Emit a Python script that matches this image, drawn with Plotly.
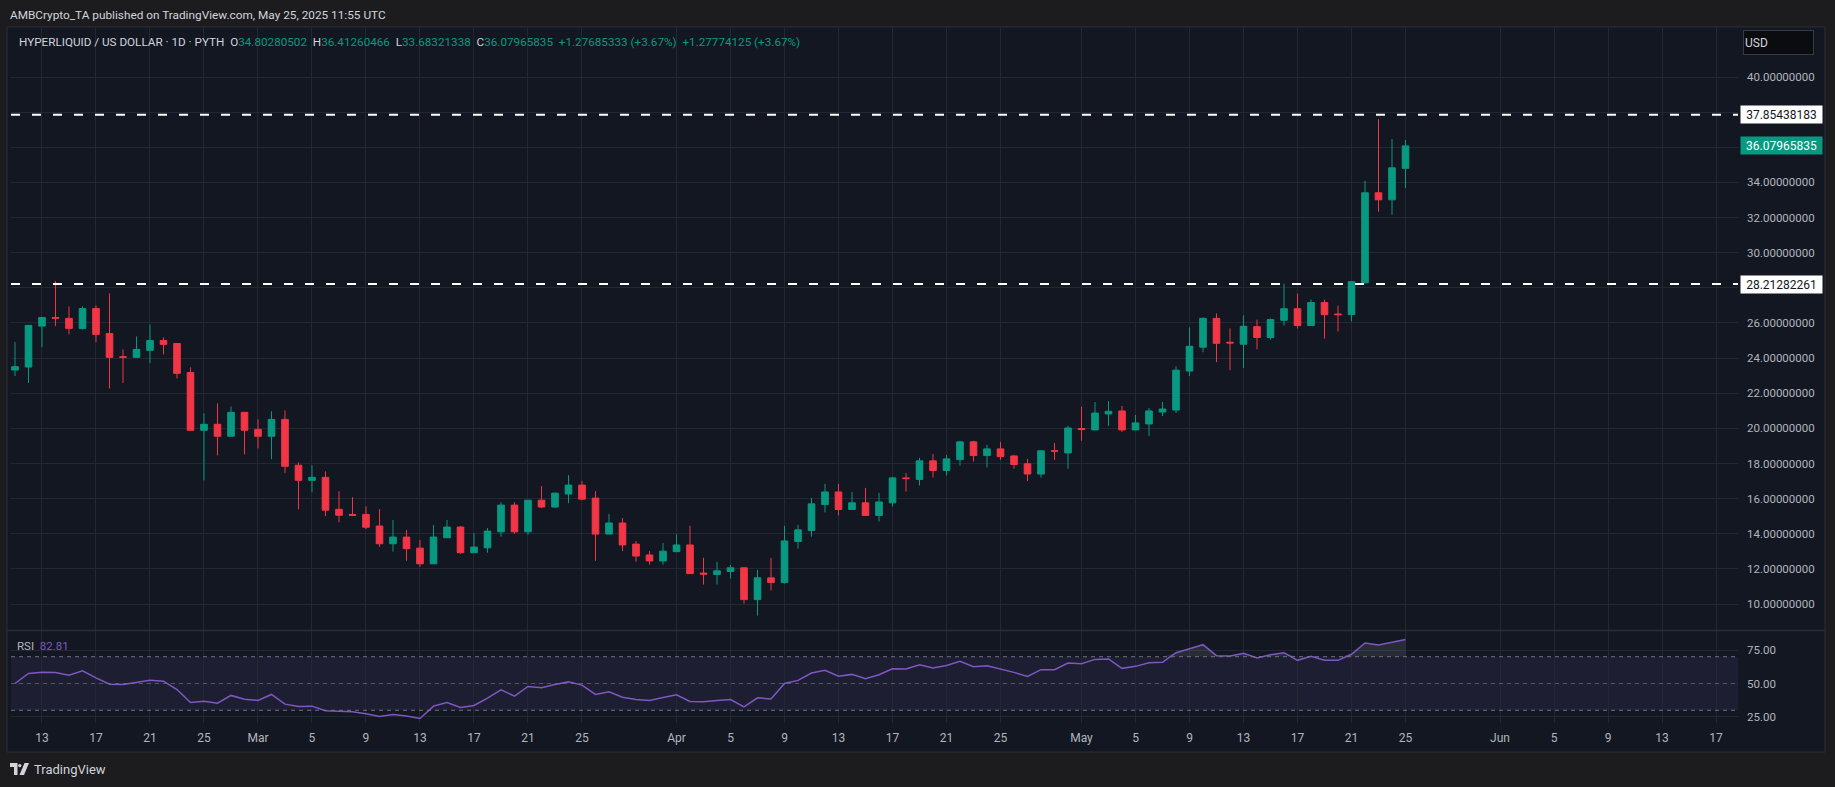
import numpy as np
import pandas as pd
import plotly.graph_objects as go

# ---------------- data ----------------
dates = pd.date_range("2025-02-11", "2025-05-25", freq="D").strftime("%Y-%m-%d").tolist()

opens = [23.32, 23.49, 25.82, 26.31, 26.26, 25.69, 26.82, 25.40, 24.08, 24.04, 24.44, 25.00, 24.83, 23.18, 19.89, 20.23, 19.55, 20.91,
         19.94, 19.55, 20.51, 17.90, 17.04, 17.21, 15.39, 15.10, 15.10, 14.44, 13.43, 13.81, 13.18, 12.29, 13.77, 14.38, 12.92, 13.20,
         14.11, 15.63, 14.11, 15.91, 15.52, 16.26, 16.77, 16.03, 13.98, 14.61, 13.41, 12.79, 12.45,
         12.98, 13.36, 11.76, 11.68, 11.85, 12.06, 10.25, 11.49, 11.22, 13.56, 14.18, 15.66, 16.38, 15.38, 15.76, 15.04, 15.76, 17.18,
         17.09, 18.15, 17.60, 18.22, 19.23, 18.45, 18.83, 18.43, 17.98, 17.40, 18.72, 18.60,
         19.99, 19.91, 20.82, 20.99, 19.91, 20.25, 20.93, 21.04, 23.26, 24.62, 26.26, 24.90, 24.79, 25.79, 25.17, 26.15, 26.81, 25.85,
         27.16, 26.51, 26.47, 28.29, 33.41, 33.01, 34.80280502]
highs = [24.91, 25.88, 26.31, 28.39, 26.94, 26.94, 27.00, 27.68, 24.49, 25.23, 25.91, 25.18, 24.83, 23.47, 20.85, 21.42, 21.25, 20.91,
         20.51, 20.97, 21.02, 18.07, 17.90, 17.55, 16.42, 16.08, 15.56, 15.40, 14.78, 14.21, 13.64, 14.49, 14.78, 14.44, 14.04, 14.32,
         15.80, 15.80, 15.91, 16.71, 16.34, 17.34, 17.00, 16.43, 15.12, 14.89, 13.58, 13.01, 13.47,
         13.98, 14.45, 12.63, 12.40, 12.23, 12.11, 11.94, 12.63, 14.45, 14.50, 16.04, 16.84, 16.84, 16.38, 16.61, 16.33, 17.24, 17.46,
         18.32, 18.55, 18.49, 19.29, 19.29, 19.06, 19.23, 18.49, 18.26, 18.77, 19.17, 20.14,
         21.23, 21.50, 21.55, 21.27, 20.76, 21.16, 21.50, 23.54, 25.75, 26.32, 26.54, 25.69, 26.43, 26.19, 26.25, 28.23, 27.67, 27.33,
         27.33, 26.98, 28.35, 34.09, 37.60, 36.47, 36.41260466]
lows = [22.98, 22.58, 24.63, 25.82, 25.35, 25.63, 24.91, 22.27, 22.58, 24.04, 23.72, 24.21, 22.84, 19.89, 17.04, 18.46, 19.55, 18.52,
        18.86, 18.24, 17.44, 15.39, 16.36, 15.00, 14.65, 15.00, 14.26, 13.26, 12.98, 12.46, 12.12, 12.29, 13.77, 12.86, 12.92, 12.92,
        13.83, 14.00, 13.94, 15.46, 15.46, 15.74, 15.91, 12.46, 13.98, 13.01, 12.41, 12.24, 12.24,
        12.98, 11.73, 11.11, 11.11, 11.45, 10.03, 9.34, 10.77, 11.16, 13.16, 13.84, 15.21, 15.04, 15.38, 15.04, 14.69, 15.55, 16.40,
        16.74, 17.20, 17.31, 17.88, 18.11, 17.77, 18.21, 17.70, 17.00, 17.20, 18.21, 17.70,
        19.29, 19.91, 20.14, 19.80, 19.91, 19.57, 20.70, 20.87, 22.97, 24.33, 23.77, 23.31, 23.43, 24.50, 25.05, 25.85, 25.68, 25.85,
        25.11, 25.51, 26.08, 28.23, 32.33, 32.16, 33.68321338]
closes = [23.51, 25.86, 26.31, 26.27, 25.69, 26.82, 25.35, 24.04, 24.04, 24.49, 25.00, 24.78, 23.13, 19.89, 20.23, 19.55, 20.91, 19.89,
          19.55, 20.51, 17.84, 17.04, 17.21, 15.34, 15.05, 15.05, 14.37, 13.43, 13.81, 13.15, 12.29, 13.81, 14.38, 12.92, 13.24, 14.15,
          15.63, 14.11, 15.91, 15.52, 16.31, 16.77, 15.97, 13.98, 14.61, 13.36, 12.73, 12.45, 13.01,
          13.36, 11.73, 11.70, 11.89, 12.06, 10.25, 11.49, 11.22, 13.59, 14.22, 15.70, 16.38, 15.38, 15.76, 15.04, 15.81, 17.18, 17.14,
          18.15, 17.60, 18.26, 19.23, 18.45, 18.83, 18.40, 17.94, 17.40, 18.72, 18.70, 20.02,
          19.93, 20.87, 20.97, 19.91, 20.31, 20.99, 21.10, 23.31, 24.67, 26.26, 24.84, 24.86, 25.81, 25.17, 26.19, 26.81, 25.85, 27.16,
          26.47, 26.47, 28.35, 33.41, 33.01, 34.83, 36.07965835]
rsi = [50.0, 57.5, 58.4, 58.2, 56.2, 59.4, 54.2, 49.5, 49.3, 50.7, 52.5, 51.7, 45.5, 35.8, 36.8, 35.3, 41.1, 38.3,
       37.3, 41.8, 34.6, 32.9, 33.1, 29.6, 29.1, 28.9, 27.4, 25.4, 26.9, 25.7, 23.9, 33.1, 35.8, 32.1, 33.6, 39.1,
       45.3, 40.6, 47.8, 46.8, 49.3, 51.2, 48.8, 41.8, 43.8, 39.8, 38.1, 37.3, 39.6,
       41.6, 36.6, 36.3, 37.3, 38.0, 32.5, 39.3, 38.5, 50.0, 52.3, 57.8, 59.8, 55.5, 56.8, 53.5, 56.5, 61.0, 60.8,
       64.0, 61.5, 63.5, 66.5, 62.5, 63.3, 61.0, 58.3, 55.3, 60.3, 60.3, 65.3,
       64.8, 68.0, 68.3, 61.3, 62.8, 65.5, 65.8, 73.0, 76.0, 79.0, 70.8, 70.5, 72.5, 69.0, 71.5, 73.0, 67.3, 70.3,
       67.3, 67.3, 71.8, 80.3, 78.8, 80.8, 82.81]

levels = [37.85438183, 28.21282261]
last_close = 36.07965835
price_ticks = list(range(10, 41, 2))
rsi_ticks = [25, 50, 75]
rsi_bands = [30, 50, 70]

tick_dates = ["2025-02-13", "2025-02-17", "2025-02-21", "2025-02-25", "2025-03-01", "2025-03-05", "2025-03-09",
              "2025-03-13", "2025-03-17", "2025-03-21", "2025-03-25", "2025-04-01", "2025-04-05", "2025-04-09",
              "2025-04-13", "2025-04-17", "2025-04-21", "2025-04-25", "2025-05-01", "2025-05-05", "2025-05-09",
              "2025-05-13", "2025-05-17", "2025-05-21", "2025-05-25", "2025-06-01", "2025-06-05", "2025-06-09",
              "2025-06-13", "2025-06-17"]
tick_labels = ["13", "17", "21", "25", "Mar", "5", "9", "13", "17", "21", "25", "Apr", "5", "9", "13", "17",
               "21", "25", "May", "5", "9", "13", "17", "21", "25", "Jun", "5", "9", "13", "17"]

assert len(dates) == len(opens) == len(highs) == len(lows) == len(closes) == len(rsi)

# ---------------- layout helpers ----------------
W, H = 1835, 787
L, R, T, B = 11, 1738, 28, 723


def px(x):
    return (x - L) / (R - L)


def py(y):
    return (B - y) / (B - T)


GREEN = "#089981"
RED = "#F23645"
TXT = "#b2b5be"
GRID = "#232733"
FONT = "Roboto"

fig = go.Figure()

fig.add_trace(go.Candlestick(
    x=dates, open=opens, high=highs, low=lows, close=closes,
    increasing=dict(line=dict(color=GREEN, width=1), fillcolor=GREEN),
    decreasing=dict(line=dict(color=RED, width=1), fillcolor=RED),
    whiskerwidth=0, showlegend=False, hoverinfo="skip",
    xaxis="x", yaxis="y",
))

rsi_arr = np.array(rsi)
fig.add_trace(go.Scatter(x=dates, y=[70] * len(dates), mode="lines", line=dict(width=0),
                         showlegend=False, hoverinfo="skip", xaxis="x2", yaxis="y2"))
fig.add_trace(go.Scatter(x=dates, y=np.maximum(rsi_arr, 70), mode="lines", line=dict(width=0),
                         fill="tonexty", fillcolor="rgba(120,123,134,0.22)",
                         showlegend=False, hoverinfo="skip", xaxis="x2", yaxis="y2"))
fig.add_trace(go.Scatter(x=dates, y=rsi, mode="lines", line=dict(color="#7E57C2", width=1.5),
                         showlegend=False, hoverinfo="skip", xaxis="x2", yaxis="y2"))

x_range = ["2025-02-10 16:54:00", "2025-06-18 15:07:00"]
main_dom = [py(630), 1]
rsi_dom = [0, py(631)]

axis_font = dict(family=FONT, size=11.5, color=TXT)

shapes = [
    # panel background
    dict(type="rect", xref="paper", yref="paper", x0=px(7), x1=px(1825), y0=py(752), y1=py(27),
         fillcolor="#131722", line=dict(color="#2a2e39", width=1), layer="below"),
    # RSI band
    dict(type="rect", xref="paper", yref="y2", x0=0, x1=1, y0=rsi_bands[0], y1=rsi_bands[2],
         fillcolor="rgba(126,87,194,0.11)", line=dict(width=0), layer="below"),
    # pane separator
    dict(type="line", xref="paper", yref="paper", x0=px(7), x1=px(1825), y0=py(630.5), y1=py(630.5),
         line=dict(color="#2a2e39", width=1.5)),
]
for b in rsi_bands:
    shapes.append(dict(type="line", xref="paper", yref="y2", x0=0, x1=1, y0=b, y1=b,
                       line=dict(color="rgba(120,123,134,0.9)" if b != 50 else "rgba(120,123,134,0.6)",
                                 width=1, dash="4px,4px")))
for lv in levels:
    shapes.append(dict(type="line", xref="paper", yref="y", x0=0, x1=1, y0=lv, y1=lv,
                       line=dict(color="#ffffff", width=2, dash="9px,12px")))

# TradingView logo (decorative)
shapes += [
    dict(type="path", xref="paper", yref="paper",
         path=f"M {px(10)},{py(763)} L {px(17.5)},{py(763)} L {px(17.5)},{py(775)} L {px(14)},{py(775)} "
              f"L {px(14)},{py(767)} L {px(10)},{py(767)} Z",
         fillcolor="#d1d4dc", line=dict(width=0)),
    dict(type="circle", xref="paper", yref="paper", x0=px(18.2), x1=px(21.4), y0=py(767.2), y1=py(764),
         fillcolor="#d1d4dc", line=dict(width=0)),
    dict(type="path", xref="paper", yref="paper",
         path=f"M {px(24.5)},{py(763)} L {px(29)},{py(763)} L {px(24)},{py(775)} L {px(19.5)},{py(775)} Z",
         fillcolor="#d1d4dc", line=dict(width=0)),
]

header = ("HYPERLIQUID / US DOLLAR · 1D · PYTH&nbsp;&nbsp;"
          f"O<span style='color:{GREEN}'>34.80280502</span>&nbsp;&nbsp;"
          f"H<span style='color:{GREEN}'>36.41260466</span>&nbsp;&nbsp;"
          f"L<span style='color:{GREEN}'>33.68321338</span>&nbsp;&nbsp;"
          f"C<span style='color:{GREEN}'>36.07965835</span>&nbsp;&nbsp;"
          f"<span style='color:{GREEN}'>+1.27685333 (+3.67%)</span>&nbsp;&nbsp;"
          f"<span style='color:{GREEN}'>+1.27774125 (+3.67%)</span>")

annotations = [
    dict(text="AMBCrypto_TA published on TradingView.com, May 25, 2025 11:55 UTC", xref="paper", yref="paper",
         x=px(8), y=py(15), xanchor="left", yanchor="middle", showarrow=False,
         font=dict(family=FONT, size=11.8, color="#d1d4dc")),
    dict(text=header, xref="paper", yref="paper", x=px(17), y=py(42), xanchor="left", yanchor="middle",
         showarrow=False, font=dict(family=FONT, size=11.7, color="#d1d4dc")),
    dict(text=f"RSI&nbsp;&nbsp;<span style='color:#7E57C2'>{rsi[-1]:.2f}</span>", xref="paper", yref="paper",
         x=px(15), y=py(646), xanchor="left", yanchor="middle", showarrow=False,
         font=dict(family=FONT, size=11.5, color=TXT)),
    dict(text="TradingView", xref="paper", yref="paper", x=px(32), y=py(769), xanchor="left", yanchor="middle",
         showarrow=False, font=dict(family=FONT, size=13, color="#d1d4dc")),
    dict(text="USD", xref="paper", yref="paper", x=px(1743), y=py(42.5), xanchor="left", yanchor="middle",
         showarrow=False, align="left", width=67, height=21, borderpad=1, bgcolor="#0b0c10",
         bordercolor="#363a45", borderwidth=1, font=dict(family=FONT, size=12, color="#d1d4dc")),
]
for lv in levels:
    annotations.append(dict(text=f"{lv:.8f}", xref="paper", yref="y", x=px(1740), y=lv, xanchor="left",
                            yanchor="middle", showarrow=False, width=79, height=15, borderpad=1,
                            bgcolor="#ffffff", font=dict(family=FONT, size=12, color="#131722")))
annotations.append(dict(text=f"{last_close:.8f}", xref="paper", yref="y", x=px(1740), y=last_close,
                        xanchor="left", yanchor="middle", showarrow=False, width=79, height=15, borderpad=1,
                        bgcolor=GREEN, font=dict(family=FONT, size=12, color="#ffffff")))

fig.update_layout(
    width=W, height=H,
    margin=dict(l=L, r=W - R, t=T, b=H - B),
    paper_bgcolor="#1c1c1e", plot_bgcolor="rgba(0,0,0,0)",
    showlegend=False,
    xaxis=dict(type="date", range=x_range, domain=[0, 1], anchor="y", rangeslider=dict(visible=False),
               tickvals=tick_dates, ticktext=tick_labels, showticklabels=False, showgrid=True,
               gridcolor=GRID, gridwidth=1, zeroline=False, showline=False, ticks=""),
    yaxis=dict(domain=main_dom, range=[8.52, 42.79], side="right", anchor="x",
               tickvals=price_ticks, ticktext=[f"{v:.8f}" for v in price_ticks], tickfont=axis_font,
               showgrid=True, gridcolor=GRID, gridwidth=1, zeroline=False, showline=False, ticks="",
               ticklabelstandoff=8),
    xaxis2=dict(type="date", range=x_range, domain=[0, 1], anchor="y2", matches="x",
                tickvals=tick_dates, ticktext=tick_labels, tickfont=dict(family=FONT, size=12, color=TXT),
                showgrid=True, gridcolor=GRID, gridwidth=1, zeroline=False, showline=False, ticks="",
                ticklabelstandoff=6),
    yaxis2=dict(domain=rsi_dom, range=[20.5, 89.2], side="right", anchor="x2",
                tickvals=rsi_ticks, ticktext=[f"{v:.2f}" for v in rsi_ticks], tickfont=axis_font,
                showgrid=True, gridcolor=GRID, gridwidth=1, zeroline=False, showline=False, ticks="",
                ticklabelstandoff=8),
    shapes=shapes,
    annotations=annotations,
)

fig.write_html(
    "out.html",
    config={"displayModeBar": False},
    post_script="document.body.style.margin='0';document.body.style.overflow='hidden';",
)
